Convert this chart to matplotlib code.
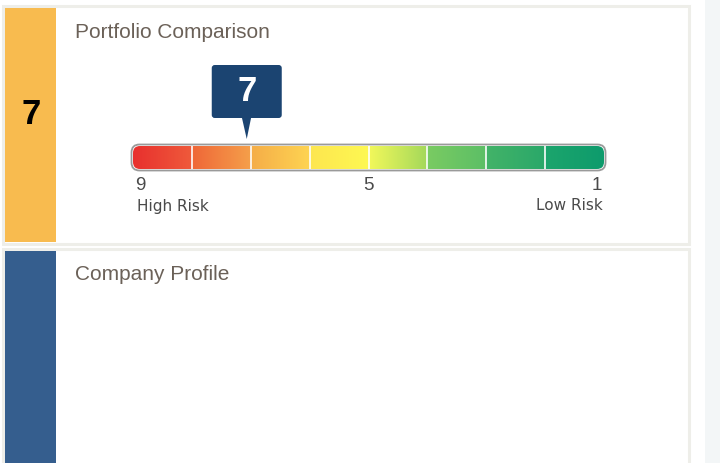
import matplotlib
matplotlib.use('Agg')
import matplotlib.pyplot as plt
import numpy as np
from matplotlib.patches import Rectangle, FancyBboxPatch, Polygon
from matplotlib.transforms import ScaledTranslation
from matplotlib.colors import to_rgb

# dados do medidor de risco
risk_levels = [9, 8, 7, 6, 5, 4, 3, 2, 1]
seg_start = ['#e8302e', '#ef6638', '#f5ad48', '#fde64f', '#f2f85a', '#7acb62', '#43b368', '#1ca56c']
seg_end = ['#ef5a3b', '#f5a04a', '#fed452', '#fef852', '#a3d85b', '#5cbf66', '#2aa86a', '#0e9b6c']
score = 7
tick_values = [9, 5, 1]
end_labels = ['High Risk', 'Low Risk']
panel_titles = ['Portfolio Comparison', 'Company Profile']
panel_colors = ['#f8bb4f', '#355e8e']

fig = plt.figure(figsize=(7.2, 4.63), dpi=100)
fig.patch.set_facecolor('white')

# eixo de fundo em pixels
bg = fig.add_axes([0, 0, 1, 1])
bg.set_xlim(0, 720)
bg.set_ylim(463, 0)
bg.axis('off')

bg.add_patch(Rectangle((705, 0), 15, 463, fc='#f3f6f7', ec='none'))

tops = [4, 247]
bottoms = [245, 475]
grad = np.linspace(0, 1, 40)[:, None, None]
c0 = np.array(to_rgb('#fdfefe'))
c1 = np.array(to_rgb('#f1f3f6'))
header = (c0 * (1 - grad) + c1 * grad) * np.ones((1, 2, 1))
for top, bot, title, col in zip(tops, bottoms, panel_titles, panel_colors):
    bg.add_patch(Rectangle((2.5, top + 1.5), 686, bot - top - 3, fc='white',
                           ec='#eeeee9', lw=2.2))
    bg.add_patch(Rectangle((5, top + 4), 51, bot - top - 7, fc=col, ec='none'))
    bg.imshow(header, extent=(57, 670, top + 39, top + 4), aspect='auto',
              interpolation='bilinear')
    bg.text(75, top + 28, title, fontsize=15, color='#6b6158',
            family='Liberation Sans', va='center', ha='left')
bg.set_xlim(0, 720)
bg.set_ylim(463, 0)

bg.text(31, 114, str(score), fontsize=25, fontweight='bold', color='black',
        family='Liberation Sans', ha='center', va='center')

# medidor
gauge = fig.add_axes([133 / 720, 1 - 169 / 463, 471 / 720, 23 / 463])
clip = FancyBboxPatch((133, 146), 471, 23, boxstyle='round,pad=0,rounding_size=7',
                      transform=bg.transData)
t = np.linspace(0, 1, 60)[None, :, None]
for i in range(len(risk_levels) - 1):
    a = np.array(to_rgb(seg_start[i]))
    b = np.array(to_rgb(seg_end[i]))
    img = a * (1 - t) + b * t
    im = gauge.imshow(img, extent=(risk_levels[i], risk_levels[i + 1], 0, 1),
                      aspect='auto', interpolation='bilinear')
    im.set_clip_path(clip)
gauge.vlines(risk_levels[1:-1], 0, 1, colors='white', lw=1.3, alpha=0.9)
gauge.set_xlim(9, 1)
gauge.set_ylim(0, 1)
gauge.axis('off')

border = FancyBboxPatch((131.5, 144.5), 474, 26, boxstyle='round,pad=0,rounding_size=8',
                        fc='none', ec='#9a9a9a', lw=1.3, transform=bg.transData,
                        clip_on=False)
gauge.add_patch(border)

has = ['left', 'center', 'right']
dxs = [2, 0, -2]
for v, ha, dx in zip(tick_values, has, dxs):
    gauge.annotate(str(v), xy=(v, 0), xycoords=('data', 'axes fraction'),
                   xytext=(dx, -16), textcoords='offset pixels', ha=ha, va='center',
                   fontsize=13.5, color='#4a4a4a', family='Liberation Sans',
                   annotation_clip=False)
gauge.annotate(end_labels[0], xy=(tick_values[0], 0), xycoords=('data', 'axes fraction'),
               xytext=(4, -37), textcoords='offset pixels', ha='left', va='center',
               fontsize=11, color='#4a4a4a', annotation_clip=False)
gauge.annotate(end_labels[1], xy=(tick_values[-1], 0), xycoords=('data', 'axes fraction'),
               xytext=(-1, -37), textcoords='offset pixels', ha='right', va='center',
               fontsize=11, color='#4a4a4a', annotation_clip=False)

# marcador do valor
trans = fig.dpi_scale_trans + ScaledTranslation(score, 1, gauge.transData)
dx = -0.04
navy = '#1b4471'
box = FancyBboxPatch((-0.35 + dx, 0.28), 0.70, 0.53, boxstyle='round,pad=0,rounding_size=0.03',
                     fc=navy, ec='none', transform=trans, clip_on=False)
gauge.add_patch(box)
tail = Polygon([(-0.05 + dx, 0.29), (0.045 + dx, 0.29), (dx, 0.07)], closed=True,
               fc=navy, ec='none', transform=trans, clip_on=False)
gauge.add_patch(tail)
gauge.text(dx, 0.545, str(score), transform=trans, color='white', fontsize=25,
           fontweight='bold', family='Liberation Sans', ha='center', va='center')

fig.savefig('out.png', dpi=100)
